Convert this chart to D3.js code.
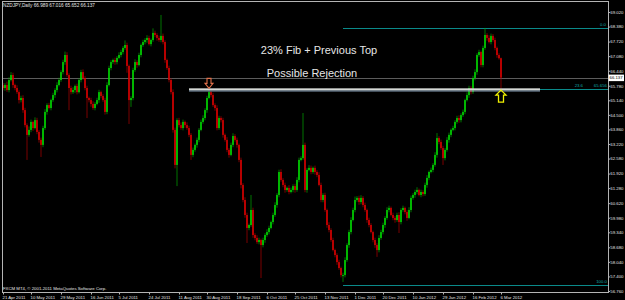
<!DOCTYPE html>
<html>
<head>
<meta charset="utf-8">
<script src="https://cdn.jsdelivr.net/npm/d3@7"></script>
<style>
  html, body { margin: 0; padding: 0; background: #000; }
  svg { display: block; }
  .tiny { font-family: "Liberation Sans", Arial, sans-serif; font-size: 4.3px; fill: #e4e4e4; }
</style>
</head>
<body>
<div id="chart"></div>
<script>
// NZDJPY daily, 21 Apr 2011 .. 8 Mar 2012 (one value per bar)
const closes = [
  65.68,65.81,65.59,66.03,66.25,65.81,65.68,65.50,65.15,65.24,
  64.71,64.05,63.62,63.84,64.19,63.92,64.27,63.75,63.40,63.18,
  63.92,64.63,64.93,64.80,65.15,65.37,65.59,65.81,66.03,66.38,
  66.82,67.13,66.25,65.68,65.50,65.59,65.77,65.50,66.03,66.38,
  66.12,65.68,65.24,65.15,64.98,64.80,64.98,65.15,65.50,65.33,
  65.15,64.63,65.81,66.56,66.82,66.91,66.82,67.00,67.13,67.26,
  67.44,67.57,66.65,65.15,65.24,66.47,66.82,66.69,67.13,67.57,
  67.70,67.79,67.88,67.61,67.79,68.10,68.01,67.88,67.79,67.97,
  67.70,66.91,66.56,66.03,65.50,63.84,62.30,64.27,64.05,63.92,
  64.19,64.05,63.92,63.62,62.74,62.96,63.18,63.40,63.84,64.19,
  64.36,64.71,65.24,65.50,65.37,64.93,64.80,63.92,64.36,64.27,
  63.62,63.40,62.96,62.74,63.18,63.57,63.40,63.18,62.52,61.42,
  60.76,60.10,59.53,59.66,60.32,59.22,59.09,58.91,59.00,58.78,
  59.00,59.22,59.35,59.53,59.79,60.10,60.54,60.98,61.99,61.64,
  61.42,61.20,61.29,61.11,61.20,61.37,61.20,61.64,62.52,62.60,
  63.18,61.20,62.08,62.17,61.99,62.17,61.99,61.86,61.42,60.76,
  60.98,60.32,59.66,59.44,59.00,58.56,58.34,58.03,57.77,57.46,
  57.46,58.12,58.78,59.35,59.88,60.32,60.76,60.85,60.67,60.85,
  60.54,60.32,59.88,59.66,59.35,59.00,58.78,58.56,59.09,59.35,
  59.66,59.97,60.32,60.41,60.10,59.97,59.88,60.10,59.79,60.32,
  60.41,60.23,59.97,60.32,60.85,60.98,61.11,61.20,60.98,61.11,
  61.02,61.42,61.73,61.99,62.08,62.30,62.74,63.48,63.31,63.04,
  62.60,62.96,63.40,63.62,63.84,63.92,64.19,64.36,64.27,64.49,
  64.63,65.15,65.37,65.68,65.50,66.12,66.38,67.13,67.26,66.69,
  67.44,68.01,67.88,67.70,67.97,67.79,67.44,67.13,66.989,66.137
];
const firstOpen = 65.80;

// wick lengths above / below the candle body
const upperWicks = [
  .10,.08,.15,.12,.13,.10,.06,.12,.08,.10, .12,.10,.08,.15,.10,.06,.12,.10,.08,.10,
  .10,.12,.08,.10,.06,.10,.08,.12,.10,.08, .10,.15,.12,.08,.10,.12,.06,.10,.08,.10,
  .12,.08,.10,.06,.10,.12,.08,.10,.10,.06, .08,.10,.12,.10,.08,.06,.10,.08,.12,.10,
  .08,.20,.10,.06,.08,.10,.12,.08,.10,.06, .10,.08,.12,.10,.06,.20,.10,.08,.10,.92,
  .10,.08,.06,.10,.08,.12,.10,.08,.10,.12, .10,.06,.12,.10,.08,.10,.06,.10,.08,.10,
  .12,.08,.10,.12,.06,.10,.08,.12,.10,.08, .10,.06,.12,.08,.10,.12,.08,.10,.06,.10,
  .08,.12,.10,.06,.66,.10,.08,.12,.10,.06, .10,.08,.12,.10,.06,.10,.12,.08,.10,.12,
  .08,.10,.06,.12,.10,.08,.10,.12,.10,.08, 1.40,.10,.08,.12,.10,.06,.10,.08,.12,.10,
  .08,.10,.06,.12,.08,.10,.06,.08,.10,.06, .10,.12,.08,.10,.12,.10,.15,.08,.10,.12,
  .08,.10,.06,.10,.08,.06,.10,.08,.12,.10, .10,.08,.12,.10,.06,.10,.08,.10,.12,.08,
  .10,.06,.08,.12,.10,.08,.10,.12,.06,.10, .08,.10,.12,.06,.10,.08,.12,.22,.08,.10,
  .10,.08,.12,.10,.06,.10,.08,.10,.12,.08, .10,.06,.12,.10,.08,.10,.12,.08,.10,.06,
  .10,.31,.08,.12,.10,.08,.10,.06,.08,.027
];
const lowerWicks = [
  .10,.12,.08,.10,.06,.12,.10,.08,.15,.10, .12,.10,1.10,.08,.10,.12,.06,.10,.12,.53,
  .10,.08,.12,.06,.10,.08,.12,.10,.06,.08, .10,.12,.08,.97,.10,.08,.12,.10,.06,.10,
  .08,.10,.88,.10,.12,.08,.10,.06,.12,.10, .08,.12,.10,.06,.10,.08,.12,.10,.06,.10,
  .10,.08,.30,1.05,.30,.10,.08,.12,.06,.10, .08,.10,.12,.06,.10,.08,.10,.12,.08,.10,
  .10,.12,.08,.10,.10,.12,.15,.93,.10,.08, .10,.12,.08,.10,.22,.10,.08,.12,.10,.06,
  .08,.10,.12,.06,.10,.08,.12,.10,.08,.10, .12,.08,.10,.12,.06,.10,.08,.12,.10,.15,
  .10,.12,.66,.10,.08,.12,.10,.08,.10,1.45, .10,.12,.08,.10,.06,.10,.08,.12,.10,.08,
  .10,.12,.08,.10,.06,.10,.12,.08,.10,.06, .08,.10,.12,.06,.10,.08,.12,.10,.06,.10,
  .10,.08,.12,.10,.08,.06,.10,.12,.08,.10, .30,.10,.08,.12,.10,.06,.10,.08,.12,.10,
  .10,.08,.12,.10,.06,.10,.12,.30,.10,.08, .10,.12,.08,.10,.06,.10,.12,.08,.48,.10,
  .08,.10,.12,.06,.10,.08,.12,.10,.06,.10, .10,.08,.12,.10,.06,.10,.08,.12,.10,.08,
  .30,.10,.08,.12,.10,.06,.10,.08,.12,.10, .08,.10,.06,.12,.10,.08,.10,.12,.08,.10,
  .10,.08,.12,.06,.10,.08,.10,.12,.06,.485
];

const priceTicks = [69.020,68.380,67.720,67.080,66.440,65.780,65.140,64.500,63.860,63.220,
  62.580,61.920,61.280,60.620,59.980,59.340,58.680,58.040,57.400,56.760];
const dateTickBars = [0,14,29,44,58,73,88,102,117,132,146,161,176,190,205,220,235,249];
const dateTickLabels = ["21 Apr 2011","10 May 2011","29 May 2011","16 Jun 2011","5 Jul 2011",
  "24 Jul 2011","11 Aug 2011","30 Aug 2011","18 Sep 2011","6 Oct 2011","25 Oct 2011",
  "13 Nov 2011","1 Dec 2011","20 Dec 2011","10 Jan 2012","29 Jan 2012","16 Feb 2012","6 Mar 2012"];

// fibonacci retracement (drawn from the Nov low to the Feb high)
const fibLevels = [
  {label: "0.0", price: 68.32},
  {label: "23.6", price: 65.656},
  {label: "100.0", price: 57.03}
];
const fibStartBar = 170;
const resistancePrice = 65.60, resistanceStartBar = 93;
const lastPrice = 66.137;

const W = 625, H = 300;
const frame = {left: 2, right: 608, top: 1, bottom: 292};

const bars = closes.map((c, i) => {
  const o = i === 0 ? firstOpen : closes[i - 1];
  return {i, o, c, h: Math.max(o, c) + upperWicks[i], l: Math.min(o, c) - lowerWicks[i]};
});

const x = d3.scaleLinear().domain([0, 249]).range([3, 501]);
const y = d3.scaleLinear().domain([56.76, 69.02]).range([291, 12]);

const svg = d3.select("#chart").append("svg")
  .attr("width", W).attr("height", H);
svg.append("rect").attr("width", W).attr("height", H).attr("fill", "#000");

// current price line
svg.append("line")
  .attr("x1", frame.left).attr("x2", frame.right)
  .attr("y1", Math.round(y(lastPrice)) + 0.5).attr("y2", Math.round(y(lastPrice)) + 0.5)
  .attr("stroke", "#5c5c5c").attr("stroke-width", 1);

// fib lines
const fibG = svg.append("g");
fibLevels.forEach(f => {
  const yy = Math.round(y(f.price)) + 0.5;
  fibG.append("line")
    .attr("x1", x(fibStartBar)).attr("x2", frame.right)
    .attr("y1", yy).attr("y2", yy)
    .attr("stroke", "#0a8a8a").attr("stroke-width", 1);
});
fibG.append("text").attr("class", "tiny").attr("x", 606).attr("y", y(68.32) - 1.5)
  .attr("text-anchor", "end").style("fill", "#10a8a8").text("0.0");
fibG.append("text").attr("class", "tiny").attr("x", 583).attr("y", y(65.656) - 1.5)
  .attr("text-anchor", "end").style("fill", "#10a8a8").text("23.6");
fibG.append("text").attr("class", "tiny").attr("x", 607).attr("y", y(65.656) - 1.5)
  .attr("text-anchor", "end").style("fill", "#10a8a8").text("65.656");
fibG.append("text").attr("class", "tiny").attr("x", 607).attr("y", y(57.03) - 1.5)
  .attr("text-anchor", "end").style("fill", "#10a8a8").text("100.0");

// candles
const cg = svg.append("g");
cg.selectAll("line.wick").data(bars).join("line")
  .attr("class", "wick")
  .attr("x1", d => x(d.i)).attr("x2", d => x(d.i))
  .attr("y1", d => y(d.h)).attr("y2", d => y(d.l))
  .attr("stroke", d => d.c >= d.o ? "#00a800" : "#b00000")
  .attr("stroke-width", 0.7);
cg.selectAll("rect.body").data(bars).join("rect")
  .attr("class", "body")
  .attr("x", d => x(d.i) - 0.75)
  .attr("width", 1.5)
  .attr("y", d => y(Math.max(d.o, d.c)))
  .attr("height", d => Math.max(1, Math.abs(y(d.o) - y(d.c))))
  .attr("fill", d => d.c >= d.o ? "#00e000" : "#e00000");

// resistance band
const ry = y(resistancePrice);
svg.append("rect")
  .attr("x", x(resistanceStartBar)).attr("width", 540 - x(resistanceStartBar))
  .attr("y", ry - 1.5).attr("height", 2.2).attr("fill", "#d4d8d4");
svg.append("rect")
  .attr("x", x(resistanceStartBar)).attr("width", 540 - x(resistanceStartBar))
  .attr("y", ry + 0.7).attr("height", 1).attr("fill", "#7d93aa");

// arrows
function downArrow(cx, tipY) {
  const t = tipY - 10;
  return `M${cx-2},${t}H${cx+2}V${t+5}H${cx+4}L${cx},${tipY}L${cx-4},${t+5}H${cx-2}Z`;
}
function upArrow(cx, tipY) {
  const b = tipY + 12;
  return `M${cx},${tipY}L${cx+5},${tipY+5}H${cx+2.5}V${b}H${cx-2.5}V${tipY+5}H${cx-5}Z`;
}
svg.append("path").attr("d", downArrow(x(103), y(bars[103].h) - 1))
  .attr("fill", "none").attr("stroke", "#e0704a").attr("stroke-width", 1.1);
svg.append("path").attr("d", upArrow(x(249), y(bars[249].l) + 1.5))
  .attr("fill", "none").attr("stroke", "#f0f000").attr("stroke-width", 1.3);

// annotation text
svg.append("text").attr("x", 319).attr("y", 54).attr("text-anchor", "middle")
  .style("font-family", "Liberation Sans, Arial, sans-serif").style("font-size", "11px")
  .style("fill", "#e6e6e6").text("23% Fib + Previous Top");
svg.append("text").attr("x", 312).attr("y", 77).attr("text-anchor", "middle")
  .style("font-family", "Liberation Sans, Arial, sans-serif").style("font-size", "11px")
  .style("fill", "#e6e6e6").text("Possible Rejection");

// frame
svg.append("rect")
  .attr("x", frame.left + 0.5).attr("y", frame.top + 0.5)
  .attr("width", frame.right - frame.left).attr("height", frame.bottom - frame.top)
  .attr("fill", "none").attr("stroke", "#b4b4b4");

// price axis
const yAxis = svg.append("g").attr("transform", `translate(${frame.right + 0.5},0)`)
  .call(d3.axisRight(y).tickValues(priceTicks).tickFormat(d3.format(".3f")).tickSize(1.5).tickPadding(0.3));
yAxis.select(".domain").remove();
yAxis.selectAll("line").attr("stroke", "#b4b4b4");
yAxis.selectAll("text").attr("class", "tiny").attr("fill", null);

// time axis
const xAxis = svg.append("g").attr("transform", `translate(0,${frame.bottom + 0.5})`)
  .call(d3.axisBottom(x).tickValues(dateTickBars)
    .tickFormat((d, k) => dateTickLabels[k]).tickSize(2).tickPadding(1));
xAxis.select(".domain").remove();
xAxis.selectAll("line").attr("stroke", "#b4b4b4");
xAxis.selectAll("text").attr("class", "tiny").attr("fill", null)
  .attr("text-anchor", "start").attr("dx", -1);

// last price marker
const ly = y(lastPrice);
svg.append("rect").attr("x", frame.right + 0.5).attr("y", ly - 3).attr("width", 15.5).attr("height", 6.5)
  .attr("fill", "#ffffff");
svg.append("text").attr("class", "tiny").attr("x", frame.right + 1.5).attr("y", ly + 1.6)
  .style("fill", "#000").text("66.137");

// header and footer
svg.append("text").attr("class", "tiny").attr("x", 3).attr("y", 7)
  .style("font-size", "4.7px")
  .text("NZDJPY,Daily  66.989 67.016 65.652 66.137");
svg.append("text").attr("class", "tiny").attr("x", 3).attr("y", 289.5)
  .text("FXCM MT4, \u00a9 2001-2011 MetaQuotes Software Corp.");
</script>
</body>
</html>
